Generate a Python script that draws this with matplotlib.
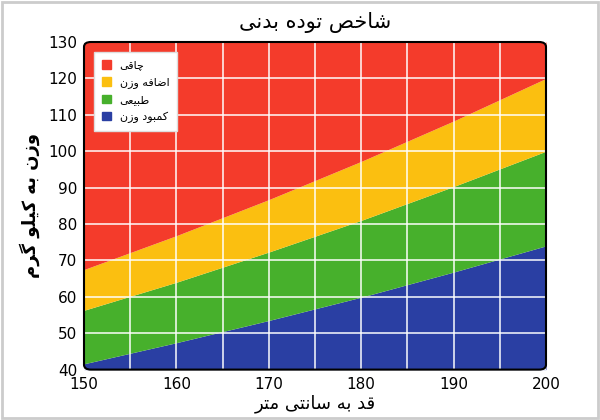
import matplotlib
matplotlib.use("Agg")
import matplotlib.pyplot as plt
from matplotlib.patches import Patch, FancyBboxPatch, Rectangle

heights = [150, 160, 170, 180, 190, 200]
under_top = [41.6, 47.4, 53.5, 59.9, 66.8, 74.0]
normal_top = [56.3, 64.0, 72.3, 81.0, 90.3, 100.0]
over_top = [67.5, 76.8, 86.7, 97.2, 108.3, 120.0]
x_ticks = [150, 160, 170, 180, 190, 200]
y_ticks = [40, 50, 60, 70, 80, 90, 100, 110, 120, 130]

TITLE = "شاخص توده بدنی"
XLABEL = "قد به سانتی متر"
YLABEL = "وزن به کیلو گرم"
LABELS = ["چاقی", "اضافه وزن", "طبیعی", "کمبود وزن"]

# minimal Persian shaping: letter -> (isolated, final, initial, medial)
FORMS = {
    "ا": (0xFE8D, 0xFE8E, None, None), "ب": (0xFE8F, 0xFE90, 0xFE91, 0xFE92),
    "ت": (0xFE95, 0xFE96, 0xFE97, 0xFE98), "خ": (0xFEA5, 0xFEA6, 0xFEA7, 0xFEA8),
    "د": (0xFEA9, 0xFEAA, None, None), "ر": (0xFEAD, 0xFEAE, None, None),
    "ز": (0xFEAF, 0xFEB0, None, None), "س": (0xFEB1, 0xFEB2, 0xFEB3, 0xFEB4),
    "ش": (0xFEB5, 0xFEB6, 0xFEB7, 0xFEB8), "ص": (0xFEB9, 0xFEBA, 0xFEBB, 0xFEBC),
    "ض": (0xFEBD, 0xFEBE, 0xFEBF, 0xFEC0), "ط": (0xFEC1, 0xFEC2, 0xFEC3, 0xFEC4),
    "ع": (0xFEC9, 0xFECA, 0xFECB, 0xFECC), "ف": (0xFED1, 0xFED2, 0xFED3, 0xFED4),
    "ق": (0xFED5, 0xFED6, 0xFED7, 0xFED8), "ل": (0xFEDD, 0xFEDE, 0xFEDF, 0xFEE0),
    "م": (0xFEE1, 0xFEE2, 0xFEE3, 0xFEE4), "ن": (0xFEE5, 0xFEE6, 0xFEE7, 0xFEE8),
    "ه": (0xFEE9, 0xFEEA, 0xFEEB, 0xFEEC), "و": (0xFEED, 0xFEEE, None, None),
    "ی": (0xFBFC, 0xFBFD, 0xFBFE, 0xFBFF), "ک": (0xFB8E, 0xFB8F, 0xFB90, 0xFB91),
    "گ": (0xFB92, 0xFB93, 0xFB94, 0xFB95), "چ": (0xFB7A, 0xFB7B, 0xFB7C, 0xFB7D),
}


def shape(text):
    out = []
    n = len(text)
    for i, ch in enumerate(text):
        f = FORMS.get(ch)
        if f is None:
            out.append(ch)
            continue
        prev = text[i - 1] if i > 0 else ""
        nxt = text[i + 1] if i < n - 1 else ""
        join_prev = prev in FORMS and FORMS[prev][2] is not None
        join_next = nxt in FORMS and f[2] is not None
        if join_prev and join_next:
            code = f[3]
        elif join_prev:
            code = f[1]
        elif join_next:
            code = f[2]
        else:
            code = f[0]
        out.append(chr(code))
    return "".join(out)[::-1]


plt.rcParams["font.family"] = ["DejaVu Sans"]
red, yellow, green, blue = "#f43b2b", "#fbbf10", "#47b02c", "#2a3fa3"

fig = plt.figure(figsize=(6, 4.2), dpi=100, facecolor="white")
fig.patches.append(Rectangle((0.004, 0.005), 0.992, 0.99, transform=fig.transFigure,
                             fill=False, ec="#cccccc", lw=2))
ax = fig.add_axes([0.14, 0.12, 0.77, 0.78])

ax.fill_between(heights, 40, under_top, color=blue, lw=0)
ax.fill_between(heights, under_top, normal_top, color=green, lw=0)
ax.fill_between(heights, normal_top, over_top, color=yellow, lw=0)
ax.fill_between(heights, over_top, 130, color=red, lw=0)

for xv in range(150, 201, 5):
    ax.axvline(xv, color="white", lw=1.2, alpha=0.9)
for yv in y_ticks:
    ax.axhline(yv, color="white", lw=1.2, alpha=0.9)

ax.set_xlim(150, 200)
ax.set_ylim(40, 130)
ax.set_xticks(x_ticks)
ax.set_yticks(y_ticks)
ax.tick_params(labelsize=11, length=0, pad=5)
for s in ax.spines.values():
    s.set_visible(False)
ax.patch.set_visible(False)
ax.add_patch(FancyBboxPatch((0, 0), 1, 1, boxstyle="round,pad=0,rounding_size=0.015",
                            transform=ax.transAxes, fill=False, ec="black", lw=1.5,
                            clip_on=False, zorder=5))

ax.set_title(shape(TITLE), fontsize=15, pad=10)
ax.set_xlabel(shape(XLABEL), fontsize=13, labelpad=2)
ax.set_ylabel(shape(YLABEL), fontsize=13, fontweight="bold", labelpad=6)

handles = [Patch(color=c) for c in (red, yellow, green, blue)]
leg = ax.legend(handles, [shape(t) for t in LABELS], loc="upper left",
                bbox_to_anchor=(0.01, 0.985), fontsize=8, frameon=True,
                fancybox=False, handlelength=0.8, handleheight=0.8,
                borderpad=0.7, labelspacing=0.6)
leg.get_frame().set_facecolor("white")
leg.get_frame().set_edgecolor("#dddddd")
leg.get_frame().set_alpha(1)
for t in leg.get_texts():
    t.set_fontsize(8)

fig.savefig("out.png", dpi=100)
